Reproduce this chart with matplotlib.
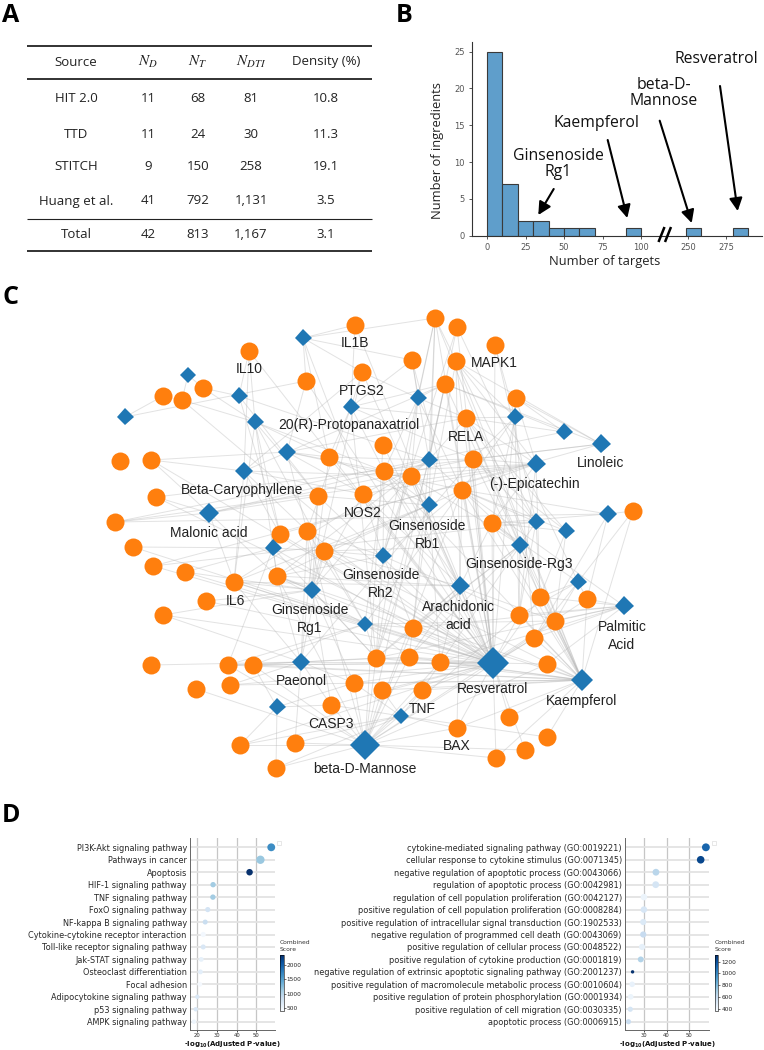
import matplotlib
matplotlib.use('Agg')
import matplotlib.pyplot as plt
from matplotlib.collections import LineCollection
from matplotlib.cm import ScalarMappable
from matplotlib.colors import Normalize
from matplotlib.patches import Rectangle

W, H = 764, 1050
UI = 'Open Sans'
NET = 'Liberation Sans'

# ---------- panel A ----------
table_cols = ['Source', '$N_D$', '$N_T$', '$N_{DTI}$', 'Density (%)']
table_rows = [
    ['HIT 2.0', '11', '68', '81', '10.8'],
    ['TTD', '11', '24', '30', '11.3'],
    ['STITCH', '9', '150', '258', '19.1'],
    ['Huang et al.', '41', '792', '1,131', '3.5'],
    ['Total', '42', '813', '1,167', '3.1'],
]

# ---------- panel B ----------
bin_left = [0, 10, 20, 30, 40, 50, 60, 90, 129, 159.5]
bin_count = [25, 7, 2, 2, 1, 1, 1, 1, 1, 1]
hist_ticks = [0, 25, 50, 75, 100, 130.5, 155.5]
hist_ticklabels = ['0', '25', '50', '75', '100', '250', '275']
hist_yticks = [0, 5, 10, 15, 20, 25]

# ---------- panel C: layout coordinates ----------
target_xy = [(355,325),(249,351),(306,381),(362,372),(203,388),(163,396),(182,400),(151,460),(120,461),(329,457),
             (363,494),(318,496),(156,497),(115,522),(133,547),(280,534),(307,531),(324,551),(153,566),(435,318),
             (457,327),(495,345),(412,360),(456,361),(445,384),(516,398),(466,418),(383,445),(384,471),(411,476),
             (473,459),(462,490),(492,523),(633,511),(185,572),(234,582),(277,576),(206,601),(163,615),(151,665),
             (228,665),(253,665),(196,689),(230,685),(376,658),(354,683),(382,690),(331,705),(295,743),(240,745),
             (276,768),(540,597),(587,599),(519,615),(555,621),(534,638),(413,628),(409,657),(440,662),(547,664),
             (422,690),(457,728),(509,717),(547,737),(525,750),(496,758)]
drug_xy = [(303,338),(188,375),(239,396),(351,407),(125,417),(255,422),(287,452),(244,471),(209,513),(273,548),
           (418,398),(515,417),(564,432),(601,444),(429,460),(536,464),(429,505),(536,522),(566,531),(608,514),
           (520,545),(312,590),(383,556),(365,624),(301,662),(277,707),(365,745),(460,586),(578,582),(624,606),
           (493,663),(582,680),(401,716)]
drug_diag = [17,16,17,17,17,17,18,18,20,17,17,17,17,19,17,19,17,17,17,18,18,18,17,16,18,17,30,19,17,19,32,22,16]
drug_targets = [
    [0,2,3,10,22,9,19],
    [4,6],
    [4,1,11,15,27],
    [0,3,22,24,9,26,28,16,30,44],
    [5,2],
    [1,6,4,9,11,15,17,28,35,36],
    [2,9,7,10,29,16,26,31],
    [1,7,3,10,15,16,35,24,29],
    [12,7,13,11,35,28,36,30],
    [15,14,17,34,36,40,44,56],
    [19,22,3,24,28,29,31,26,44],
    [25,21,26,30,31,32,23,53,55],
    [25,13,24,26],
    [25,15,12,30,24,23],
    [19,20,22,24,26,27,29,30,31,9,10,28,44,56,36,35],
    [13,26,25,30,31,32,51,18,10,29,53,28,23],
    [28,29,31,11,17,35,36,44,57,58,23,19,9],
    [31,32,19,18,51,53,30,26,60,21],
    [30,32,51,54,26,31],
    [33,13,31,32,52,55],
    [32,31,26,53,51,56,57,17,29,44],
    [34,35,36,38,11,16,17,37,45,44,47,10,3,9,29],
    [10,28,29,16,17,31,36,56,44,53,19,20],
    [17,36,40,41,44,56,57,35,16,28,31,54],
    [39,40,41,36,35,38,16,17,11,43,44,45,47,48,57,58,30],
    [49,47,50,41,45],
    [47,48,49,50,45,46,60,57,61,65,64,44,56,58,53,55,36,16,31,24,40,42,27,41,52,59],
    [31,32,17,28,29,35,36,44,56,57,58,54,61,23,10],
    [51,52,53,55,54,20,33,32],
    [52,54,51,53,59,55,44,56,58,31],
    [0,1,2,3,9,10,11,15,16,17,19,20,21,22,23,24,25,26,27,28,29,30,31,32,34,35,36,37,38,40,41,43,44,45,46,47,
     51,53,54,55,56,57,58,59,60,61,62,64,65,14,18,7,12,6,49],
    [51,52,53,54,55,59,44,45,46,56,57,58,60,61,62,63,40,41,26,30,31,32,33,24,17,43,36,28,19,23,65],
    [46,45,60,61,47,48,50,49,63],
]
target_labels = {'IL1B':(355,343),'IL10':(249,369),'PTGS2':(362,391),'MAPK1':(494,363),'RELA':(466,437),
                 'NOS2':(363,513),'IL6':(235,601),'CASP3':(331,724),'TNF':(422,709),'BAX':(457,746)}
drug_labels = {'20(R)-Protopanaxatriol':(349,425),'Linoleic':(601,463),'(-)-Epicatechin':(534,484),
               'Beta-Caryophyllene':(242,490),'Malonic acid':(209,533),'Ginsenoside\nRb1':(427,535),
               'Ginsenoside-Rg3':(519,564),'Ginsenoside\nRh2':(381,584),'Arachidonic\nacid':(458,616),
               'Ginsenoside\nRg1':(310,619),'Palmitic\nAcid':(622,636),'Paeonol':(301,681),
               'Resveratrol':(493,689),'Kaempferol':(582,701),'beta-D-Mannose':(365,769)}

# ---------- panel D ----------
kegg_terms = ['PI3K-Akt signaling pathway','Pathways in cancer','Apoptosis','HIF-1 signaling pathway','TNF signaling pathway',
              'FoxO signaling pathway','NF-kappa B signaling pathway','Cytokine-cytokine receptor interaction',
              'Toll-like receptor signaling pathway','Jak-STAT signaling pathway','Osteoclast differentiation','Focal adhesion',
              'Adipocytokine signaling pathway','p53 signaling pathway','AMPK signaling pathway']
kegg_p = [57.5,52,46.5,28,27.9,25.3,24,23,23,22,21.6,21.3,20,19.2,18.3]
kegg_score = [1650,1150,2320,1100,1100,750,850,450,700,560,600,430,700,700,500]
kegg_size = [32,36,22,15,15,14,13,14,13,12,12,12,10,10,10]
go_terms = ['cytokine-mediated signaling pathway (GO:0019221)','cellular response to cytokine stimulus (GO:0071345)',
            'negative regulation of apoptotic process (GO:0043066)','regulation of apoptotic process (GO:0042981)',
            'regulation of cell population proliferation (GO:0042127)','positive regulation of cell population proliferation (GO:0008284)',
            'positive regulation of intracellular signal transduction (GO:1902533)','negative regulation of programmed cell death (GO:0043069)',
            'positive regulation of cellular process (GO:0048522)','positive regulation of cytokine production (GO:0001819)',
            'negative regulation of extrinsic apoptotic signaling pathway (GO:2001237)','positive regulation of macromolecule metabolic process (GO:0010604)',
            'positive regulation of protein phosphorylation (GO:0001934)','positive regulation of cell migration (GO:0030335)',
            'apoptotic process (GO:0006915)']
go_p = [57.3,55,35.3,35.2,30,30,29.7,29.7,29.2,28.6,25,24.8,24.2,24,23.2]
go_score = [1120,1230,640,530,420,520,500,600,450,660,1300,440,420,530,580]
go_size = [32,30,24,24,22,22,20,20,20,18,6,16,16,14,14]

plt.rcParams['font.family'] = 'DejaVu Sans'
fig = plt.figure(figsize=(W / 100, H / 100), dpi=100, facecolor='white')


def axpx(l, t, r, b, **kw):
    return fig.add_axes([l / W, 1 - b / H, (r - l) / W, (b - t) / H], **kw)


ov = axpx(0, 0, W, H, zorder=5)
ov.set_xlim(0, W)
ov.set_ylim(H, 0)
ov.axis('off')
ov.patch.set_alpha(0)

# panel letters
for s, x, y in [('A', 2, 15), ('B', 396, 15), ('C', 2, 298), ('D', 2, 815)]:
    ov.text(x, y, s, family=UI, weight='bold', fontsize=18, ha='left', va='center', color='black')

# ---- table ----
col_x = [76, 148, 198, 251, 326]
row_y = [98, 134, 167, 201, 234]
for x, c in zip(col_x, table_cols):
    ov.text(x, 62, c, family=UI, fontsize=11 if c.startswith('$') else 9.5, ha='center', va='center',
            color='#222', math_fontfamily='stix')
for y, row in zip(row_y, table_rows):
    for x, c in zip(col_x, row):
        ov.text(x, y, c, family=UI, fontsize=9.5, ha='center', va='center', color='#222')
for y, lw in [(45.5, 1.3), (79, 1.3), (218.5, 0.8), (251, 1.3)]:
    ov.plot([27, 372], [y, y], color='#222', lw=lw, solid_capstyle='butt')

# ---- histogram ----
axb = axpx(472, 41.7, 762, 235.7)
axb.bar(bin_left, bin_count, width=10, align='edge', color='#5f9ecb', edgecolor='#3a3a3a', linewidth=0.8)
axb.set_xlim((472 - 487) / 1.54, (762 - 487) / 1.54)
axb.set_ylim(0, (235.7 - 41.7) / 7.36)
axb.set_xticks(hist_ticks, hist_ticklabels)
axb.set_yticks(hist_yticks)
axb.tick_params(labelsize=6, colors='#555555', length=2, width=0.7, pad=3)
for s in ('top', 'right'):
    axb.spines[s].set_visible(False)
for s in ('left', 'bottom'):
    axb.spines[s].set_linewidth(0.8)
    axb.spines[s].set_color('#333333')
ov.text(605, 262, 'Number of targets', family=UI, fontsize=9.3, ha='center', va='center', color='#222')
ov.text(437.5, 151, 'Number of ingredients', family=UI, fontsize=9.3, rotation=90, ha='center', va='center', color='#222')
for x0 in (658.5, 665):
    ov.plot([x0, x0 + 6], [242, 227], color='black', lw=1.8, solid_capstyle='butt')
for s, x, y in [('Resveratrol', 716, 59), ('beta-D-\nMannose', 664, 93), ('Kaempferol', 596, 123), ('Ginsenoside\nRg1', 558, 164)]:
    ov.text(x, y, s, family=UI, fontsize=11.3, ha='center', va='center', color='#111', linespacing=1.0)
for (x0, y0), (x1, y1) in [((553.7, 189), (538.3, 215)), ((607.7, 140), (627.3, 218)),
                           ((659.7, 120.7), (691.7, 223)), ((720, 86), (737.7, 211))]:
    ov.annotate('', xy=(x1, y1), xytext=(x0, y0),
                arrowprops=dict(arrowstyle='-|>,head_length=0.55,head_width=0.28', color='black', lw=1.5,
                                shrinkA=0, shrinkB=0, mutation_scale=14))

# ---- network ----
segs = [[drug_xy[i], target_xy[t]] for i, ts in enumerate(drug_targets) for t in ts]
ov.add_collection(LineCollection(segs, colors='#b4b4b4', linewidths=0.7, alpha=0.38, zorder=1))
ov.scatter([p[0] for p in target_xy], [p[1] for p in target_xy], s=(18 * 0.72) ** 2, color='#ff7f0e',
           linewidths=0, zorder=2)
for (x, y), d in zip(drug_xy, drug_diag):
    ov.plot([x], [y], marker='D', ms=d * 0.72 / 2 ** 0.5, color='#1f77b4', mew=0, zorder=3)
for labels in (target_labels, drug_labels):
    for s, (x, y) in labels.items():
        ov.text(x, y, s, family=NET, fontsize=10, ha='center', va='center', color='#222', zorder=4, linespacing=1.45)


# ---- dot plots ----
def dotplot(rect, xlim, xticks, terms, p, score, size, cb_rect, cb_ticks, vlim, cb_title_x, box_x):
    ax = axpx(*rect)
    y = list(range(len(terms)))
    ax.set_ylim(14 + (1030 - 1021.7) / 12.45, (838 - 847.3) / 12.45)
    ax.set_xlim(*xlim)
    ax.set_axisbelow(True)
    ax.grid(axis='x', color='#c6c6c6', lw=0.9)
    ax.grid(axis='y', color='#e2e2e2', lw=1.25)
    norm = Normalize(*vlim)
    ax.scatter(p, y, s=size, c=score, cmap='Blues', norm=norm, linewidths=0, zorder=3, clip_on=False)
    ax.set_yticks(y, terms)
    ax.set_xticks(xticks)
    ax.tick_params(axis='y', labelsize=5.85, length=0, pad=2.5, labelcolor='#262626')
    ax.tick_params(axis='x', labelsize=3.8, length=1.5, width=0.5, pad=1, labelcolor='#262626')
    for s in ('top', 'right'):
        ax.spines[s].set_visible(False)
    for s in ('left', 'bottom'):
        ax.spines[s].set_linewidth(0.7)
        ax.spines[s].set_color('#666666')
    ov.text((rect[0] + rect[2]) / 2, 1045, r'-log$_{\mathregular{10}}$(Adjusted P-value)', fontsize=5,
            weight='bold', ha='center', va='center', color='#111')
    cax = axpx(*cb_rect)
    cb = fig.colorbar(ScalarMappable(norm=norm, cmap='Blues'), cax=cax)
    cb.set_ticks(cb_ticks)
    cb.ax.tick_params(labelsize=4.2, length=1.2, width=0.4, pad=1, labelcolor='#262626')
    cb.outline.set_linewidth(0.4)
    ov.text(cb_title_x, 946, 'Combined\nScore', fontsize=4.3, ha='left', va='center', color='#333', linespacing=1.3)
    ov.add_patch(Rectangle((box_x, 841), 3.5, 3.5, fc='white', ec='#dddddd', lw=0.5))


dotplot((190.3, 838, 275, 1030), (16.45, 59.4), [20, 30, 40, 50], kegg_terms, kegg_p, kegg_score, kegg_size,
        (280.3, 955, 283.7, 1010.7), [500, 1000, 1500, 2000], (405, 2337), 280, 277)
dotplot((625.3, 838, 709.3, 1030), (21.8, 58.8), [30, 40, 50], go_terms, go_p, go_score, go_size,
        (715, 955, 718.3, 1010.7), [400, 600, 800, 1000, 1200], (366, 1314), 715, 712)

fig.savefig('out.png', dpi=100)
